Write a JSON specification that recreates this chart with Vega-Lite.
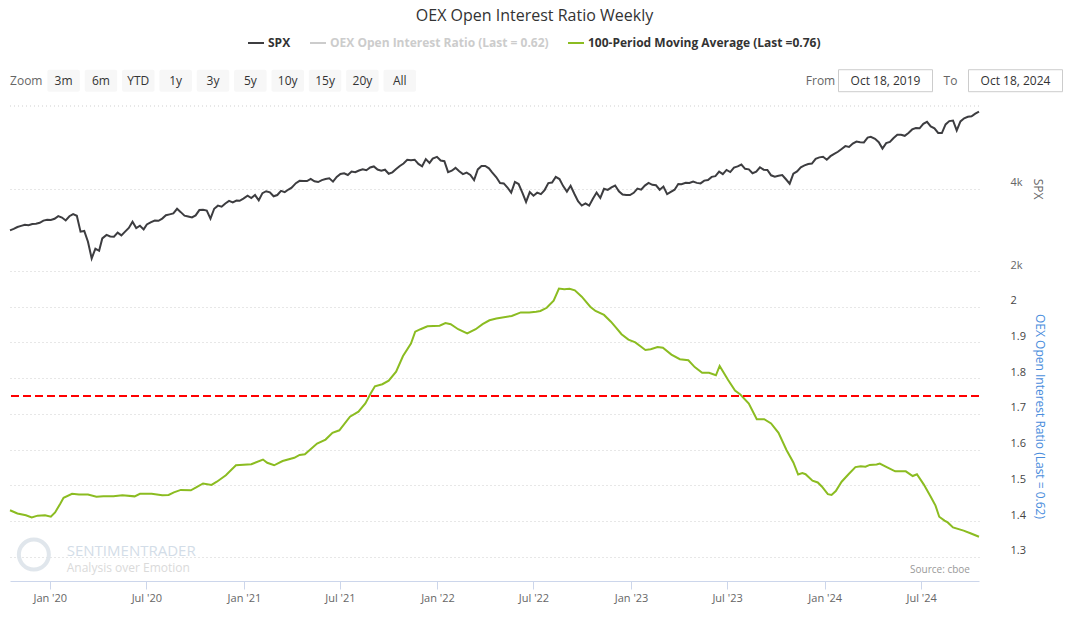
{
  "$schema": "https://vega.github.io/schema/vega-lite/v6.json",
  "padding": {"left": 6, "top": 8, "right": 5, "bottom": 5},
  "config": {
    "view": {"stroke": null},
    "font": "Open Sans",
    "axis": {"labelFont": "Open Sans", "titleFont": "Open Sans"}
  },
  "title": {"text": "OEX Open Interest Ratio Weekly", "fontSize": 16, "fontWeight": "normal", "color": "#333333", "font": "Open Sans", "anchor": "middle", "offset": 10},
  "datasets": {
    "spx": [
      {"date":"2019-10-18","close":2986},{"date":"2019-10-25","close":3023},{"date":"2019-11-01","close":3067},{"date":"2019-11-08","close":3093},{"date":"2019-11-15","close":3120},{"date":"2019-11-22","close":3110},{"date":"2019-11-29","close":3141},{"date":"2019-12-06","close":3146},{"date":"2019-12-13","close":3169},{"date":"2019-12-20","close":3221},{"date":"2019-12-27","close":3240},
      {"date":"2020-01-03","close":3235},{"date":"2020-01-10","close":3265},{"date":"2020-01-17","close":3330},{"date":"2020-01-24","close":3295},{"date":"2020-01-31","close":3226},{"date":"2020-02-07","close":3328},{"date":"2020-02-14","close":3380},{"date":"2020-02-21","close":3338},{"date":"2020-02-28","close":2954},{"date":"2020-03-06","close":2972},{"date":"2020-03-13","close":2711},{"date":"2020-03-20","close":2305},{"date":"2020-03-27","close":2541},{"date":"2020-04-03","close":2489},{"date":"2020-04-09","close":2790},{"date":"2020-04-17","close":2875},{"date":"2020-04-24","close":2837},{"date":"2020-05-01","close":2831},{"date":"2020-05-08","close":2930},{"date":"2020-05-15","close":2864},{"date":"2020-05-22","close":2955},{"date":"2020-05-29","close":3044},{"date":"2020-06-05","close":3194},{"date":"2020-06-12","close":3041},{"date":"2020-06-19","close":3098},{"date":"2020-06-26","close":3009},{"date":"2020-07-02","close":3130},{"date":"2020-07-10","close":3185},{"date":"2020-07-17","close":3225},{"date":"2020-07-24","close":3216},{"date":"2020-07-31","close":3271},{"date":"2020-08-07","close":3351},{"date":"2020-08-14","close":3373},{"date":"2020-08-21","close":3397},{"date":"2020-08-28","close":3508},{"date":"2020-09-04","close":3427},{"date":"2020-09-11","close":3341},{"date":"2020-09-18","close":3319},{"date":"2020-09-25","close":3298},{"date":"2020-10-02","close":3348},{"date":"2020-10-09","close":3477},{"date":"2020-10-16","close":3483},{"date":"2020-10-23","close":3465},{"date":"2020-10-30","close":3270},{"date":"2020-11-06","close":3509},{"date":"2020-11-13","close":3585},{"date":"2020-11-20","close":3558},{"date":"2020-11-27","close":3638},{"date":"2020-12-04","close":3699},{"date":"2020-12-11","close":3663},{"date":"2020-12-18","close":3709},{"date":"2020-12-24","close":3703},{"date":"2020-12-31","close":3756},
      {"date":"2021-01-08","close":3825},{"date":"2021-01-15","close":3768},{"date":"2021-01-22","close":3841},{"date":"2021-01-29","close":3714},{"date":"2021-02-05","close":3887},{"date":"2021-02-12","close":3934},{"date":"2021-02-19","close":3907},{"date":"2021-02-26","close":3811},{"date":"2021-03-05","close":3842},{"date":"2021-03-12","close":3943},{"date":"2021-03-19","close":3913},{"date":"2021-03-26","close":3975},{"date":"2021-04-01","close":4020},{"date":"2021-04-09","close":4129},{"date":"2021-04-16","close":4185},{"date":"2021-04-23","close":4180},{"date":"2021-04-30","close":4181},{"date":"2021-05-07","close":4233},{"date":"2021-05-14","close":4174},{"date":"2021-05-21","close":4156},{"date":"2021-05-28","close":4204},{"date":"2021-06-04","close":4230},{"date":"2021-06-11","close":4247},{"date":"2021-06-18","close":4166},{"date":"2021-06-25","close":4281},{"date":"2021-07-02","close":4352},{"date":"2021-07-09","close":4370},{"date":"2021-07-16","close":4327},{"date":"2021-07-23","close":4412},{"date":"2021-07-30","close":4395},{"date":"2021-08-06","close":4437},{"date":"2021-08-13","close":4468},{"date":"2021-08-20","close":4442},{"date":"2021-08-27","close":4509},{"date":"2021-09-03","close":4535},{"date":"2021-09-10","close":4459},{"date":"2021-09-17","close":4433},{"date":"2021-09-24","close":4455},{"date":"2021-10-01","close":4357},{"date":"2021-10-08","close":4391},{"date":"2021-10-15","close":4471},{"date":"2021-10-22","close":4545},{"date":"2021-10-29","close":4605},{"date":"2021-11-05","close":4697},{"date":"2021-11-12","close":4683},{"date":"2021-11-19","close":4698},{"date":"2021-11-26","close":4595},{"date":"2021-12-03","close":4538},{"date":"2021-12-10","close":4712},{"date":"2021-12-17","close":4620},{"date":"2021-12-23","close":4726},{"date":"2021-12-31","close":4766},
      {"date":"2022-01-07","close":4677},{"date":"2022-01-14","close":4663},{"date":"2022-01-21","close":4398},{"date":"2022-01-28","close":4432},{"date":"2022-02-04","close":4501},{"date":"2022-02-11","close":4419},{"date":"2022-02-18","close":4349},{"date":"2022-02-25","close":4385},{"date":"2022-03-04","close":4329},{"date":"2022-03-11","close":4204},{"date":"2022-03-18","close":4463},{"date":"2022-03-25","close":4543},{"date":"2022-04-01","close":4546},{"date":"2022-04-08","close":4488},{"date":"2022-04-14","close":4393},{"date":"2022-04-22","close":4272},{"date":"2022-04-29","close":4132},{"date":"2022-05-06","close":4123},{"date":"2022-05-13","close":4024},{"date":"2022-05-20","close":3901},{"date":"2022-05-27","close":4158},{"date":"2022-06-03","close":4109},{"date":"2022-06-10","close":3901},{"date":"2022-06-17","close":3675},{"date":"2022-06-24","close":3912},{"date":"2022-07-01","close":3825},{"date":"2022-07-08","close":3899},{"date":"2022-07-15","close":3863},{"date":"2022-07-22","close":3962},{"date":"2022-07-29","close":4130},{"date":"2022-08-05","close":4145},{"date":"2022-08-12","close":4280},{"date":"2022-08-19","close":4228},{"date":"2022-08-26","close":4058},{"date":"2022-09-02","close":3924},{"date":"2022-09-09","close":4067},{"date":"2022-09-16","close":3873},{"date":"2022-09-23","close":3693},{"date":"2022-09-30","close":3586},{"date":"2022-10-07","close":3640},{"date":"2022-10-14","close":3583},{"date":"2022-10-21","close":3752},{"date":"2022-10-28","close":3901},{"date":"2022-11-04","close":3771},{"date":"2022-11-11","close":3993},{"date":"2022-11-18","close":3965},{"date":"2022-11-25","close":4026},{"date":"2022-12-02","close":4072},{"date":"2022-12-09","close":3934},{"date":"2022-12-16","close":3852},{"date":"2022-12-23","close":3845},{"date":"2022-12-30","close":3840},
      {"date":"2023-01-06","close":3895},{"date":"2023-01-13","close":3999},{"date":"2023-01-20","close":3973},{"date":"2023-01-27","close":4071},{"date":"2023-02-03","close":4136},{"date":"2023-02-10","close":4090},{"date":"2023-02-17","close":4079},{"date":"2023-02-24","close":3970},{"date":"2023-03-03","close":4046},{"date":"2023-03-10","close":3862},{"date":"2023-03-17","close":3917},{"date":"2023-03-24","close":3971},{"date":"2023-03-31","close":4109},{"date":"2023-04-06","close":4105},{"date":"2023-04-14","close":4138},{"date":"2023-04-21","close":4133},{"date":"2023-04-28","close":4169},{"date":"2023-05-05","close":4136},{"date":"2023-05-12","close":4124},{"date":"2023-05-19","close":4192},{"date":"2023-05-26","close":4205},{"date":"2023-06-02","close":4282},{"date":"2023-06-09","close":4299},{"date":"2023-06-16","close":4410},{"date":"2023-06-23","close":4348},{"date":"2023-06-30","close":4450},{"date":"2023-07-07","close":4399},{"date":"2023-07-14","close":4505},{"date":"2023-07-21","close":4536},{"date":"2023-07-28","close":4582},{"date":"2023-08-04","close":4478},{"date":"2023-08-11","close":4464},{"date":"2023-08-18","close":4370},{"date":"2023-08-25","close":4406},{"date":"2023-09-01","close":4515},{"date":"2023-09-08","close":4457},{"date":"2023-09-15","close":4450},{"date":"2023-09-22","close":4320},{"date":"2023-09-29","close":4288},{"date":"2023-10-06","close":4309},{"date":"2023-10-13","close":4327},{"date":"2023-10-20","close":4224},{"date":"2023-10-27","close":4117},{"date":"2023-11-03","close":4358},{"date":"2023-11-10","close":4415},{"date":"2023-11-17","close":4514},{"date":"2023-11-24","close":4559},{"date":"2023-12-01","close":4595},{"date":"2023-12-08","close":4604},{"date":"2023-12-15","close":4719},{"date":"2023-12-22","close":4755},{"date":"2023-12-29","close":4770},
      {"date":"2024-01-05","close":4697},{"date":"2024-01-12","close":4784},{"date":"2024-01-19","close":4840},{"date":"2024-01-26","close":4891},{"date":"2024-02-02","close":4959},{"date":"2024-02-09","close":5027},{"date":"2024-02-16","close":5006},{"date":"2024-02-23","close":5089},{"date":"2024-03-01","close":5137},{"date":"2024-03-08","close":5124},{"date":"2024-03-15","close":5117},{"date":"2024-03-22","close":5234},{"date":"2024-03-28","close":5254},{"date":"2024-04-05","close":5204},{"date":"2024-04-12","close":5123},{"date":"2024-04-19","close":4967},{"date":"2024-04-26","close":5100},{"date":"2024-05-03","close":5128},{"date":"2024-05-10","close":5223},{"date":"2024-05-17","close":5303},{"date":"2024-05-24","close":5305},{"date":"2024-05-31","close":5278},{"date":"2024-06-07","close":5347},{"date":"2024-06-14","close":5432},{"date":"2024-06-21","close":5465},{"date":"2024-06-28","close":5460},{"date":"2024-07-05","close":5567},{"date":"2024-07-12","close":5615},{"date":"2024-07-19","close":5505},{"date":"2024-07-26","close":5459},{"date":"2024-08-02","close":5346},{"date":"2024-08-09","close":5344},{"date":"2024-08-16","close":5554},{"date":"2024-08-23","close":5634},{"date":"2024-08-30","close":5648},{"date":"2024-09-06","close":5408},{"date":"2024-09-13","close":5626},{"date":"2024-09-20","close":5703},{"date":"2024-09-27","close":5738},{"date":"2024-10-04","close":5751},{"date":"2024-10-11","close":5815},{"date":"2024-10-18","close":5864}
    ],
    "ma": [
      {"date":"2019-10-18","value":1.430},{"date":"2019-11-01","value":1.421},{"date":"2019-11-17","value":1.416},{"date":"2019-11-28","value":1.410},{"date":"2019-12-09","value":1.415},{"date":"2019-12-23","value":1.416},{"date":"2020-01-03","value":1.412},{"date":"2020-01-11","value":1.424},{"date":"2020-01-21","value":1.449},{"date":"2020-01-27","value":1.465},{"date":"2020-02-12","value":1.476},{"date":"2020-02-25","value":1.474},{"date":"2020-03-13","value":1.474},{"date":"2020-03-29","value":1.468},{"date":"2020-04-11","value":1.469},{"date":"2020-04-30","value":1.469},{"date":"2020-05-17","value":1.472},{"date":"2020-06-09","value":1.469},{"date":"2020-06-19","value":1.476},{"date":"2020-07-11","value":1.476},{"date":"2020-07-31","value":1.472},{"date":"2020-08-12","value":1.473},{"date":"2020-08-22","value":1.480},{"date":"2020-09-04","value":1.487},{"date":"2020-09-23","value":1.486},{"date":"2020-10-03","value":1.494},{"date":"2020-10-16","value":1.505},{"date":"2020-11-01","value":1.501},{"date":"2020-11-11","value":1.510},{"date":"2020-11-28","value":1.528},{"date":"2020-12-17","value":1.556},
      {"date":"2021-01-15","value":1.559},{"date":"2021-02-06","value":1.572},{"date":"2021-02-14","value":1.563},{"date":"2021-02-27","value":1.556},{"date":"2021-03-15","value":1.568},{"date":"2021-04-06","value":1.577},{"date":"2021-04-16","value":1.585},{"date":"2021-04-26","value":1.587},{"date":"2021-05-19","value":1.617},{"date":"2021-06-04","value":1.628},{"date":"2021-06-17","value":1.647},{"date":"2021-06-30","value":1.654},{"date":"2021-07-20","value":1.692},{"date":"2021-08-05","value":1.706},{"date":"2021-08-18","value":1.729},{"date":"2021-08-28","value":1.757},{"date":"2021-09-05","value":1.777},{"date":"2021-09-19","value":1.783},{"date":"2021-10-01","value":1.793},{"date":"2021-10-15","value":1.818},{"date":"2021-10-28","value":1.862},{"date":"2021-11-12","value":1.897},{"date":"2021-11-20","value":1.930},{"date":"2021-11-30","value":1.937},{"date":"2021-12-13","value":1.945},
      {"date":"2022-01-05","value":1.947},{"date":"2022-01-16","value":1.954},{"date":"2022-01-26","value":1.951},{"date":"2022-02-09","value":1.937},{"date":"2022-02-26","value":1.925},{"date":"2022-03-14","value":1.937},{"date":"2022-03-27","value":1.951},{"date":"2022-04-09","value":1.962},{"date":"2022-04-22","value":1.967},{"date":"2022-05-21","value":1.974},{"date":"2022-06-07","value":1.984},{"date":"2022-06-23","value":1.984},{"date":"2022-07-06","value":1.986},{"date":"2022-07-14","value":1.988},{"date":"2022-07-26","value":1.997},{"date":"2022-08-08","value":2.017},{"date":"2022-08-18","value":2.051},{"date":"2022-08-28","value":2.049},{"date":"2022-09-07","value":2.050},{"date":"2022-09-17","value":2.046},{"date":"2022-09-30","value":2.028},{"date":"2022-10-16","value":2.000},{"date":"2022-10-26","value":1.988},{"date":"2022-11-11","value":1.977},{"date":"2022-11-24","value":1.958},{"date":"2022-12-04","value":1.941},{"date":"2022-12-14","value":1.923},{"date":"2022-12-27","value":1.908},
      {"date":"2023-01-09","value":1.900},{"date":"2023-01-18","value":1.890},{"date":"2023-01-28","value":1.879},{"date":"2023-02-07","value":1.881},{"date":"2023-02-20","value":1.887},{"date":"2023-03-02","value":1.885},{"date":"2023-03-18","value":1.866},{"date":"2023-04-03","value":1.853},{"date":"2023-04-19","value":1.850},{"date":"2023-05-01","value":1.831},{"date":"2023-05-15","value":1.815},{"date":"2023-05-28","value":1.815},{"date":"2023-06-10","value":1.808},{"date":"2023-06-17","value":1.834},{"date":"2023-07-03","value":1.795},{"date":"2023-07-16","value":1.765},{"date":"2023-07-26","value":1.754},{"date":"2023-08-11","value":1.729},{"date":"2023-08-26","value":1.685},{"date":"2023-09-09","value":1.685},{"date":"2023-09-22","value":1.673},{"date":"2023-10-06","value":1.647},{"date":"2023-10-21","value":1.599},{"date":"2023-11-03","value":1.564},{"date":"2023-11-12","value":1.530},{"date":"2023-11-20","value":1.534},{"date":"2023-11-26","value":1.531},{"date":"2023-12-09","value":1.513},{"date":"2023-12-19","value":1.508},{"date":"2023-12-27","value":1.496},
      {"date":"2024-01-07","value":1.475},{"date":"2024-01-14","value":1.473},{"date":"2024-01-22","value":1.484},{"date":"2024-02-02","value":1.510},{"date":"2024-02-15","value":1.531},{"date":"2024-02-28","value":1.551},{"date":"2024-03-09","value":1.553},{"date":"2024-03-18","value":1.552},{"date":"2024-03-26","value":1.557},{"date":"2024-04-08","value":1.558},{"date":"2024-04-14","value":1.561},{"date":"2024-04-27","value":1.551},{"date":"2024-05-13","value":1.539},{"date":"2024-06-02","value":1.539},{"date":"2024-06-15","value":1.526},{"date":"2024-06-23","value":1.531},{"date":"2024-07-06","value":1.502},{"date":"2024-07-19","value":1.468},{"date":"2024-07-28","value":1.443},{"date":"2024-08-04","value":1.412},{"date":"2024-08-14","value":1.401},{"date":"2024-08-20","value":1.396},{"date":"2024-08-30","value":1.382},{"date":"2024-09-19","value":1.373},{"date":"2024-10-03","value":1.365},{"date":"2024-10-18","value":1.356}
    ],
    "notes": [
      {"note": "SENTIMENTRADER"}, {"note": "Analysis over Emotion"}, {"note": "Source: cboe"}, {"note": "logo"}
    ],
    "threshold": [{"level": 1.75}],
    "spxgrid": [{"level": 6000}]
  },
  "spacing": 0,
  "vconcat": [
    {
      "spacing": 372,
      "bounds": "flush",
      "hconcat": [
        {
          "width": 406,
          "height": 38,
          "data": {"values": [{"b":"Zoom"},{"b":"3m"},{"b":"6m"},{"b":"YTD"},{"b":"1y"},{"b":"3y"},{"b":"5y"},{"b":"10y"},{"b":"15y"},{"b":"20y"},{"b":"All"}]},
          "encoding": {
            "x": {"field": "b", "type": "nominal", "scale": {"domain": ["Zoom","3m","6m","YTD","1y","3y","5y","10y","15y","20y","All"], "paddingInner": 0.13, "paddingOuter": 0}, "axis": null},
            "y": {"datum": "row", "type": "nominal", "scale": {"domain": ["row"], "paddingInner": 0, "paddingOuter": 0.364, "align": 0.17}, "axis": null}
          },
          "layer": [
            {"transform": [{"filter": "datum.b !== 'Zoom'"}], "mark": {"type": "bar", "color": "#f7f7f7", "cornerRadius": 2}},
            {"mark": {"type": "text", "fontSize": 12, "font": "Open Sans"}, "encoding": {"text": {"field": "b"}, "color": {"condition": {"test": "datum.b === 'Zoom'", "value": "#666666"}, "value": "#333333"}}}
          ]
        },
        {
          "width": 260,
          "height": 38,
          "data": {"values": [{"c":"From"},{"c":"Oct 18, 2019"},{"c":"To"},{"c":"Oct 18, 2024"}]},
          "encoding": {
            "x": {"field": "c", "type": "nominal", "scale": {"domain": ["From","Oct 18, 2019","To","Oct 18, 2024"], "paddingInner": 0, "paddingOuter": 0}, "axis": null},
            "y": {"datum": "row", "type": "nominal", "scale": {"domain": ["row"], "paddingInner": 0, "paddingOuter": 0.364, "align": 0.17}, "axis": null}
          },
          "layer": [
            {"transform": [{"filter": "datum.c !== 'From' && datum.c !== 'To'"}], "mark": {"type": "bar", "width": 94, "fill": "#ffffff", "stroke": "#cccccc", "strokeWidth": 1}},
            {"mark": {"type": "text", "fontSize": 12, "font": "Open Sans"}, "encoding": {"text": {"field": "c"}, "color": {"condition": {"test": "datum.c === 'From' || datum.c === 'To'", "value": "#666666"}, "value": "#333333"}}}
          ]
        }
      ]
    },
    {
      "width": 969,
      "height": 165,
      "layer": [
        {
          "data": {"name": "spxgrid"},
          "mark": {"type": "rule", "color": "#cfcfcf", "strokeWidth": 1, "strokeDash": [1, 3]},
          "encoding": {"y": {"field": "level", "type": "quantitative"}}
        },
        {
          "data": {"name": "spx"},
          "mark": {"type": "line", "strokeWidth": 2},
          "encoding": {
            "x": {"field": "date", "type": "temporal", "scale": {"domain": [{"year": 2019, "month": 10, "date": 18}, {"year": 2024, "month": 10, "date": 18}]}, "axis": null},
            "y": {"field": "close", "type": "quantitative", "scale": {"domain": [2000, 6000], "nice": false, "zero": false},
              "axis": {"orient": "right", "values": [2000, 4000], "labelExpr": "(datum.value / 1000) + 'k'", "grid": true, "gridColor": "#cfcfcf", "gridDash": [1, 3], "domain": false, "ticks": false, "labelPadding": 31, "labelColor": "#666666", "labelFontSize": 11, "labelAlign": "left", "labelBaseline": "middle", "labelOffset": -6, "labelOverlap": false, "labelBound": false, "title": "SPX", "titleColor": "#666666", "titleFontSize": 12, "titleFontWeight": "normal", "titleAngle": 90, "titlePadding": 8}},
            "color": {"datum": "SPX", "type": "nominal",
              "scale": {"domain": ["SPX", "OEX Open Interest Ratio (Last = 0.62)", "100-Period Moving Average (Last =0.76)"], "range": ["#3d3d40", "#cccccc", "#8bbc21"]},
              "legend": {"orient": "none", "legendX": 237, "legendY": -33, "direction": "horizontal", "title": null, "symbolType": "stroke", "symbolSize": 256, "symbolStrokeWidth": 2, "labelFont": "Open Sans", "labelFontWeight": "bold", "labelFontSize": 12, "labelColor": "#333333", "labelOffset": 3, "columnPadding": 15, "labelLimit": 400, "padding": 0,
                "encode": {"labels": {"update": {"fill": {"signal": "datum.label === 'OEX Open Interest Ratio (Last = 0.62)' ? '#cccccc' : '#333333'"}}}}}
            }
          }
        }
      ]
    },
    {
      "width": 969,
      "height": 310,
      "layer": [
        {
          "data": {"name": "ma"},
          "mark": {"type": "line", "strokeWidth": 2, "color": "#8bbc21"},
          "encoding": {
            "x": {"field": "date", "type": "temporal", "scale": {"domain": [{"year": 2019, "month": 10, "date": 18}, {"year": 2024, "month": 10, "date": 18}]},
              "axis": {"orient": "bottom", "format": "%b '%y", "tickCount": {"interval": "month", "step": 6}, "grid": false, "domainColor": "#ccd6eb", "tickColor": "#ccd6eb", "tickSize": 8, "labelColor": "#666666", "labelFontSize": 11, "labelPadding": 3, "labelFlush": false, "title": null}},
            "y": {"field": "value", "type": "quantitative", "scale": {"domain": [1.232, 2.1], "nice": false, "zero": false},
              "axis": {"orient": "right", "values": [1.3, 1.4, 1.5, 1.6, 1.7, 1.8, 1.9, 2.0], "format": ".1~f", "grid": true, "gridColor": "#cfcfcf", "gridDash": [1, 3], "domain": false, "ticks": false, "labelPadding": 31, "labelColor": "#444444", "labelFontSize": 11, "labelAlign": "left", "labelBaseline": "middle", "labelOffset": -6, "labelOverlap": false, "labelBound": false, "title": "OEX Open Interest Ratio (Last = 0.62)", "titleColor": "#4a8ddc", "titleFontSize": 12, "titleFontWeight": "normal", "titleAngle": 90, "titlePadding": 7, "titleY": 145}}
          }
        },
        {
          "data": {"name": "threshold"},
          "mark": {"type": "rule", "color": "#ff0000", "strokeWidth": 2, "strokeDash": [8, 4]},
          "encoding": {"y": {"field": "level", "type": "quantitative"}}
        },
        {
          "data": {"name": "notes"},
          "transform": [{"filter": "datum.note === 'logo'"}],
          "mark": {"type": "point", "shape": "circle", "filled": false, "stroke": "#dde4ea", "strokeWidth": 4, "size": 900, "opacity": 0.9},
          "encoding": {"x": {"datum": {"year": 2019, "month": 12, "date": 2}, "type": "temporal"}, "y": {"datum": 1.306}}
        },
        {
          "data": {"name": "notes"},
          "transform": [{"filter": "datum.note === 'SENTIMENTRADER'"}],
          "mark": {"type": "text", "align": "left", "baseline": "middle", "fontSize": 15, "font": "Open Sans", "color": "#d3dde8"},
          "encoding": {"text": {"field": "note"}, "x": {"datum": {"year": 2020, "month": 2, "date": 2}, "type": "temporal"}, "y": {"datum": 1.317}}
        },
        {
          "data": {"name": "notes"},
          "transform": [{"filter": "datum.note === 'Analysis over Emotion'"}],
          "mark": {"type": "text", "align": "left", "baseline": "middle", "fontSize": 12, "font": "Open Sans", "color": "#dadada"},
          "encoding": {"text": {"field": "note"}, "x": {"datum": {"year": 2020, "month": 2, "date": 2}, "type": "temporal"}, "y": {"datum": 1.268}}
        },
        {
          "data": {"name": "notes"},
          "transform": [{"filter": "datum.note === 'Source: cboe'"}],
          "mark": {"type": "text", "align": "right", "baseline": "middle", "fontSize": 10, "font": "Open Sans", "color": "#999999"},
          "encoding": {"text": {"field": "note"}, "x": {"datum": {"year": 2024, "month": 10, "date": 1}, "type": "temporal"}, "y": {"datum": 1.262}}
        }
      ]
    }
  ]
}
